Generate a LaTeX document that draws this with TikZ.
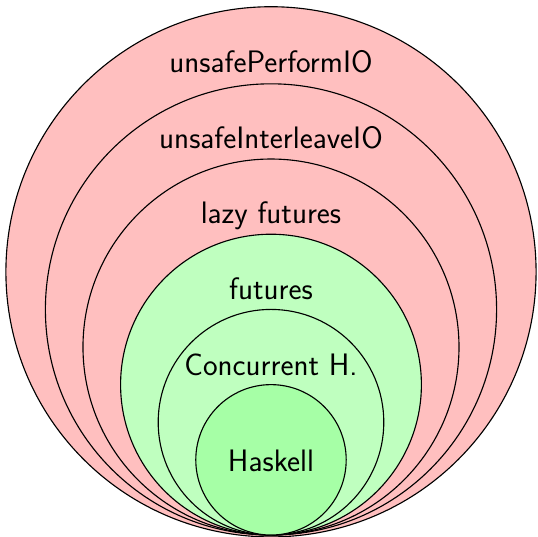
\documentclass[tikz,border=0pt]{standalone}
\begin{document}
\begin{tikzpicture}[
  ring/.style={draw=black, line width=0.85pt},
  lbl/.style={anchor=base, inner sep=0pt, font=\fontsize{23.5}{28}\selectfont\sffamily}
]
\useasboundingbox (-7.207,-0.027) rectangle (7.101,14.229);
\colorlet{pinkf}{red!25}
\colorlet{lgreen}{green!25}
\colorlet{dgreen}{green!35}
\draw[ring, fill=pinkf] (0,7) circle (7.05);
\draw[ring, fill=pinkf] (0,6) circle (6);
\draw[ring, fill=pinkf] (0,5) circle (5);
\draw[ring, fill=lgreen] (0,4) circle (4);
\draw[ring, fill=lgreen] (0,3) circle (3);
\draw[ring, fill=dgreen] (0,2) circle (2);
\node[lbl] (l7) at (0,12.29) {unsafePerformIO};
\node[lbl] (l6) at (0,10.29) {unsafeInterleaveIO};
\node[lbl] (l5) at (0,8.29) {lazy futures};
\node[lbl] (l4) at (0,6.27) {futures};
\node[lbl] (l3) at (0,4.25) {Concurrent H.};
\node[lbl] (l2) at (0,1.68) {Haskell};
\end{tikzpicture}
\end{document}
